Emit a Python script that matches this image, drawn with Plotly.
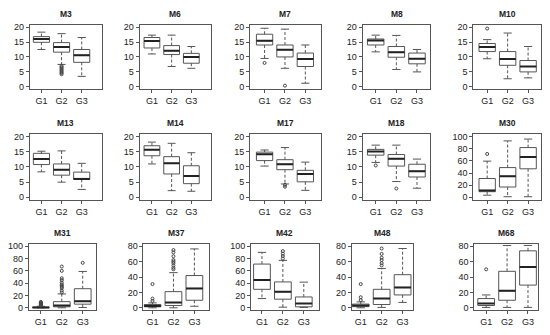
import plotly.graph_objects as go

PANELS = ["M3", "M6", "M7", "M8", "M10",
          "M13", "M14", "M17", "M18", "M30",
          "M31", "M37", "M42", "M48", "M68"]
GROUPS = ["G1", "G2", "G3"]

LOWER = [[12.5, 7.5, 3.5], [11.0, 6.8, 6.2], [9.5, 6.2, 1.2], [11.7, 5.8, 5.0], [9.4, 2.7, 3.0],
         [8.4, 5.0, 2.6], [11.0, 2.2, 2.0], [10.3, 4.4, 2.3], [11.5, 5.2, 3.0], [3.5, 1.0, 1.0],
         [0.0, 0.0, 0.5], [0.0, 0.0, 2.0], [15.0, 1.0, 0.5], [0.0, 0.5, 7.0], [0.5, 0.5, 0.5]]
Q1 = [[14.9, 11.6, 8.2], [13.0, 10.8, 7.9], [14.0, 10.0, 6.8], [14.0, 9.9, 7.7], [11.8, 7.2, 5.0],
      [10.8, 7.3, 5.9], [13.7, 7.7, 4.5], [12.1, 9.1, 5.1], [13.9, 10.3, 6.7], [9.3, 17.0, 47.0],
      [0.2, 1.6, 5.9], [1.3, 3.0, 9.8], [30.0, 14.0, 1.6], [1.5, 4.3, 16.7], [3.0, 9.8, 29.5]]
MEDIAN = [[16.0, 13.3, 10.6], [15.3, 12.1, 10.0], [15.4, 12.4, 9.3], [15.5, 11.6, 9.4], [13.3, 9.3, 6.8],
          [12.6, 9.1, 6.0], [15.7, 11.2, 7.0], [14.2, 10.9, 7.7], [15.1, 12.7, 8.6], [11.4, 34.7, 66.3],
          [0.6, 3.7, 10.7], [2.5, 6.8, 25.2], [45.0, 26.0, 7.0], [3.0, 12.0, 26.5], [5.6, 22.0, 53.0]]
Q3 = [[16.8, 14.8, 12.5], [16.5, 13.8, 11.2], [17.6, 14.0, 11.3], [16.0, 13.5, 11.3], [14.5, 11.8, 8.8],
      [14.5, 11.0, 8.3], [17.0, 13.4, 10.4], [14.9, 12.4, 8.9], [15.8, 14.1, 10.9], [31.0, 49.0, 82.0],
      [1.2, 10.0, 31.0], [4.3, 21.0, 41.9], [71.0, 42.0, 17.6], [4.8, 24.0, 43.0], [12.0, 47.4, 74.0]]
UPPER = [[18.3, 17.8, 16.5], [17.3, 17.3, 13.5], [19.6, 19.3, 14.0], [17.3, 17.2, 12.5], [15.8, 18.0, 13.5],
         [15.2, 15.3, 11.2], [18.2, 17.8, 14.7], [15.6, 16.4, 11.6], [17.2, 17.2, 12.6], [59.6, 93.0, 96.0],
         [2.5, 22.5, 59.0], [6.4, 45.7, 76.5], [90.0, 77.0, 41.7], [7.7, 51.0, 77.0], [16.7, 81.0, 81.0]]
OUTLIERS = [[[], [7.0, 6.6, 6.2, 5.8, 5.4, 5.0, 4.6, 4.2], []],
            [[], [], []],
            [[8.0], [0.4], []],
            [[], [], []],
            [[19.5], [], []],
            [[], [], []],
            [[], [], []],
            [[], [4.1, 3.5], []],
            [[10.5], [2.9], []],
            [[71.5], [], []],
            [[3.5, 4.5, 5.5, 6.5, 7.5, 8.5, 9.6], [25, 28, 32, 34, 36, 38, 41, 45, 48, 60, 67], [73]],
            [[9.0, 12.0, 30.8], [50, 52, 55, 58, 60, 62, 67, 72, 75], []],
            [[], [80, 84, 88, 92], []],
            [[10.0, 13.7, 30.8], [55, 58, 62, 65, 70, 77], []],
            [[50.0], [], []]]
YMAX = [20, 20, 20, 20, 20, 20, 20, 20, 20, 100, 100, 80, 100, 80, 80]
YSTEP = [5, 5, 5, 5, 5, 5, 5, 5, 5, 20, 20, 20, 20, 20, 20]

# page body has an 8px margin; the figure is laid out in page pixels minus that offset
OFF = 8
W, H = 550 - 2 * OFF, 335 - 2 * OFF
FR_L = [28, 138, 249, 362, 473, 28, 138, 249, 362, 473, 27, 142, 250, 351, 474]
FR_R = [100, 210, 320, 430, 541, 100, 210, 320, 430, 541, 94, 208, 318, 413, 538]
XR = [(0.43, 3.99), (0.37, 4.01), (0.29, 3.76), (0.37, 3.65), (0.32, 3.63),
      (0.43, 3.99), (0.37, 4.01), (0.29, 3.76), (0.37, 3.65), (0.32, 3.63),
      (0.43, 3.62), (0.57, 3.71), (0.48, 3.72), (0.57, 3.52), (0.43, 3.48)]
ROW_T = [23, 135, 247]
ROW_B = [89, 202, 315]

BOXW = 0.8
CAPW = 0.2
LINEC = "#555555"
FONT = "Liberation Sans, Arial, sans-serif"
XPOS = [1, 2, 3]

fig = go.Figure()
annotations = []
layout = {}
for k, name in enumerate(PANELS):
    r = k // 5
    ax = "" if k == 0 else str(k + 1)
    xa, ya = "x" + ax, "y" + ax
    fig.add_trace(go.Box(x=XPOS, q1=Q1[k], median=MEDIAN[k], q3=Q3[k],
                         lowerfence=Q1[k], upperfence=Q3[k], width=BOXW,
                         whiskerwidth=0, boxpoints=False, fillcolor="white",
                         line=dict(color=LINEC, width=1), xaxis=xa, yaxis=ya,
                         hoverinfo="skip", showlegend=False))
    wx, wy, cx, cy, mx, my, ox, oy = [], [], [], [], [], [], [], []
    for i, xp in enumerate(XPOS):
        wx += [xp, xp, None, xp, xp, None]
        wy += [Q3[k][i], UPPER[k][i], None, Q1[k][i], LOWER[k][i], None]
        cx += [xp - CAPW, xp + CAPW, None, xp - CAPW, xp + CAPW, None]
        cy += [UPPER[k][i], UPPER[k][i], None, LOWER[k][i], LOWER[k][i], None]
        mx += [xp - BOXW / 2, xp + BOXW / 2, None]
        my += [MEDIAN[k][i], MEDIAN[k][i], None]
        for v in OUTLIERS[k][i]:
            ox.append(xp)
            oy.append(v)
    fig.add_trace(go.Scatter(x=wx, y=wy, mode="lines", line=dict(color=LINEC, width=1, dash="3px,2px"),
                             xaxis=xa, yaxis=ya, hoverinfo="skip", showlegend=False))
    fig.add_trace(go.Scatter(x=cx, y=cy, mode="lines", line=dict(color=LINEC, width=1),
                             xaxis=xa, yaxis=ya, hoverinfo="skip", showlegend=False))
    fig.add_trace(go.Scatter(x=mx, y=my, mode="lines", line=dict(color="#222222", width=2),
                             xaxis=xa, yaxis=ya, hoverinfo="skip", showlegend=False))
    if ox:
        fig.add_trace(go.Scatter(x=ox, y=oy, mode="markers",
                                 marker=dict(symbol="circle-open", size=3, color="#444444", line=dict(width=1)),
                                 xaxis=xa, yaxis=ya, hoverinfo="skip", showlegend=False))
    ymax = YMAX[k]
    pad = ymax * 0.04
    x0, x1 = (FR_L[k] - OFF) / W, (FR_R[k] - OFF) / W
    y0, y1 = 1 - (ROW_B[r] - OFF) / H, 1 - (ROW_T[r] - OFF) / H
    layout["xaxis" + ax] = dict(domain=[x0, x1], anchor=ya,
                                range=list(XR[k]), tickvals=XPOS, ticktext=GROUPS,
                                showline=True, mirror=True, linecolor=LINEC, linewidth=1,
                                ticks="outside", ticklen=3, tickcolor=LINEC,
                                showgrid=False, zeroline=False, fixedrange=True,
                                tickfont=dict(family=FONT, size=9, color="#222222"))
    layout["yaxis" + ax] = dict(domain=[y0, y1], anchor=xa,
                                range=[-pad, ymax + pad], tick0=0, dtick=YSTEP[k],
                                showline=True, mirror=True, linecolor=LINEC, linewidth=1,
                                ticks="outside", ticklen=3, tickcolor=LINEC,
                                showgrid=False, zeroline=False, fixedrange=True,
                                tickfont=dict(family=FONT, size=9, color="#222222"))
    annotations.append(dict(text="<b>" + name + "</b>", x=(x0 + x1) / 2,
                            y=1 - (ROW_T[r] - 11 - OFF) / H, xref="paper", yref="paper",
                            showarrow=False, xanchor="center", yanchor="middle",
                            font=dict(family=FONT, size=8.5, color="#222222")))

fig.update_layout(width=W, height=H, margin=dict(l=0, r=0, t=0, b=0),
                  paper_bgcolor="white", plot_bgcolor="white",
                  annotations=annotations, **layout)
fig.write_html("out.html")
